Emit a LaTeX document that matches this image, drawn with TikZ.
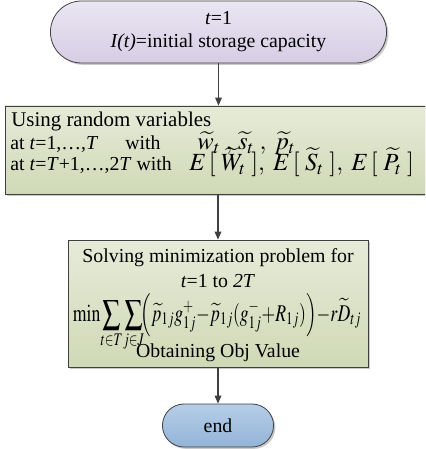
\documentclass[tikz,border=0pt]{standalone}
\usepackage{mathptmx}
\usepackage{graphicx}
\usepackage{mathtools}
\usepackage{fontspec}
\setmainfont{Liberation Serif}
\usetikzlibrary{shapes.misc,arrows.meta,shadows}
\definecolor{lavtop}{HTML}{EAE6F2}
\definecolor{lavbot}{HTML}{D6CDE4}
\definecolor{grntop}{HTML}{E6EBD8}
\definecolor{grnbot}{HTML}{D0D9B6}
\definecolor{blutop}{HTML}{B6CEE8}
\definecolor{blubot}{HTML}{93B4D8}
\definecolor{edge}{HTML}{404040}

\begin{document}
\begin{tikzpicture}[x=0.75pt, y=-0.75pt,
    shade/.style={drop shadow={shadow xshift=1.4pt, shadow yshift=-1.4pt, fill=black!35, opacity=0.6}},
    term/.style={rounded rectangle, draw=edge, line width=0.6pt, shade, font=\fontsize{14.85}{17.25}\selectfont, align=center},
    procbox/.style={rectangle, draw=edge, line width=0.6pt, shade, top color=grntop, bottom color=grnbot},
    txt/.style={font=\fontsize{14.85}{17.25}\selectfont, inner sep=0pt, anchor=base west},
    ctxt/.style={font=\fontsize{14.85}{17.25}\selectfont, inner sep=0pt, anchor=base},
    bigmath/.style={font=\fontsize{18.5}{20}\selectfont},
    flow/.style={-{Triangle[length=6pt, width=5pt]}, line width=0.9pt, draw=edge}]
    \clip (0,0) rectangle (425,449);
    % start and end
    \node (start) at (218.5,32) [term, top color=lavtop, bottom color=lavbot, minimum width=258.75pt, minimum height=46.5pt] {\textit{t}=1\\\textit{I(t)}=initial storage capacity};
    \node (stop) at (218,425.5) [term, top color=blutop, bottom color=blubot, minimum width=90pt, minimum height=32.25pt] {end};
    % random variables
    \node (vars) at (218.5,150) [procbox, minimum width=320pt, minimum height=66pt] {};
    \node (varhead) at (11,127) [txt, font=\fontsize{15.7}{18}\selectfont] {Using random variables};
    \node (rowone) at (10,150) [txt] {at \textit{t}=1,\ldots,\textit{T}};
    \node (withone) at (125,150) [txt] {with};
    \node (mathone) at (197,150) [txt, bigmath] {$\widetilde{w}_t\;,\,\widetilde{s}_t\;,\;\widetilde{p}_t$};
    \node (rowtwo) at (10,171) [txt] {at \textit{t}=\textit{T}+1,\ldots,2\textit{T} with};
    \node (mathtwo) at (189,171) [txt, bigmath] {$E\,[\;\widetilde{W}_t\;],\;E\,[\;\widetilde{S}_t\;],\;E\,[\;\widetilde{P}_t\;]$};
    % minimization
    \node (solvebox) at (218,303.5) [procbox, minimum width=225pt, minimum height=95.25pt] {};
    \node (solve) at (218,262) [ctxt] {Solving minimization problem for};
    \node (range) at (218,287) [ctxt] {\textit{t}=1 to \textit{2T}};
    \node (objfun) at (217,321) [ctxt, font=\fontsize{18}{20}\selectfont] {\resizebox*{216pt}{\totalheight}{$\displaystyle \medmuskip=0mu \thickmuskip=0mu \min\sum_{\mathclap{t\in T}}\,\sum_{\mathclap{j\in J}}\!\Bigl(\widetilde{p}_{1j}g^{+}_{1j}-\widetilde{p}_{1j}(g^{-}_{1j}+R_{1j})\Bigr)-r\widetilde{D}_{tj}$}};
    \node (objval) at (218,357) [ctxt] {Obtaining Obj Value};
    % arrows
    \draw[flow] (start.south) -- (start.south |- vars.north);
    \draw[flow] (vars.south -| solvebox.north) -- (solvebox.north);
    \draw[flow] (solvebox.south) -- (stop.north);
\end{tikzpicture}
\end{document}
